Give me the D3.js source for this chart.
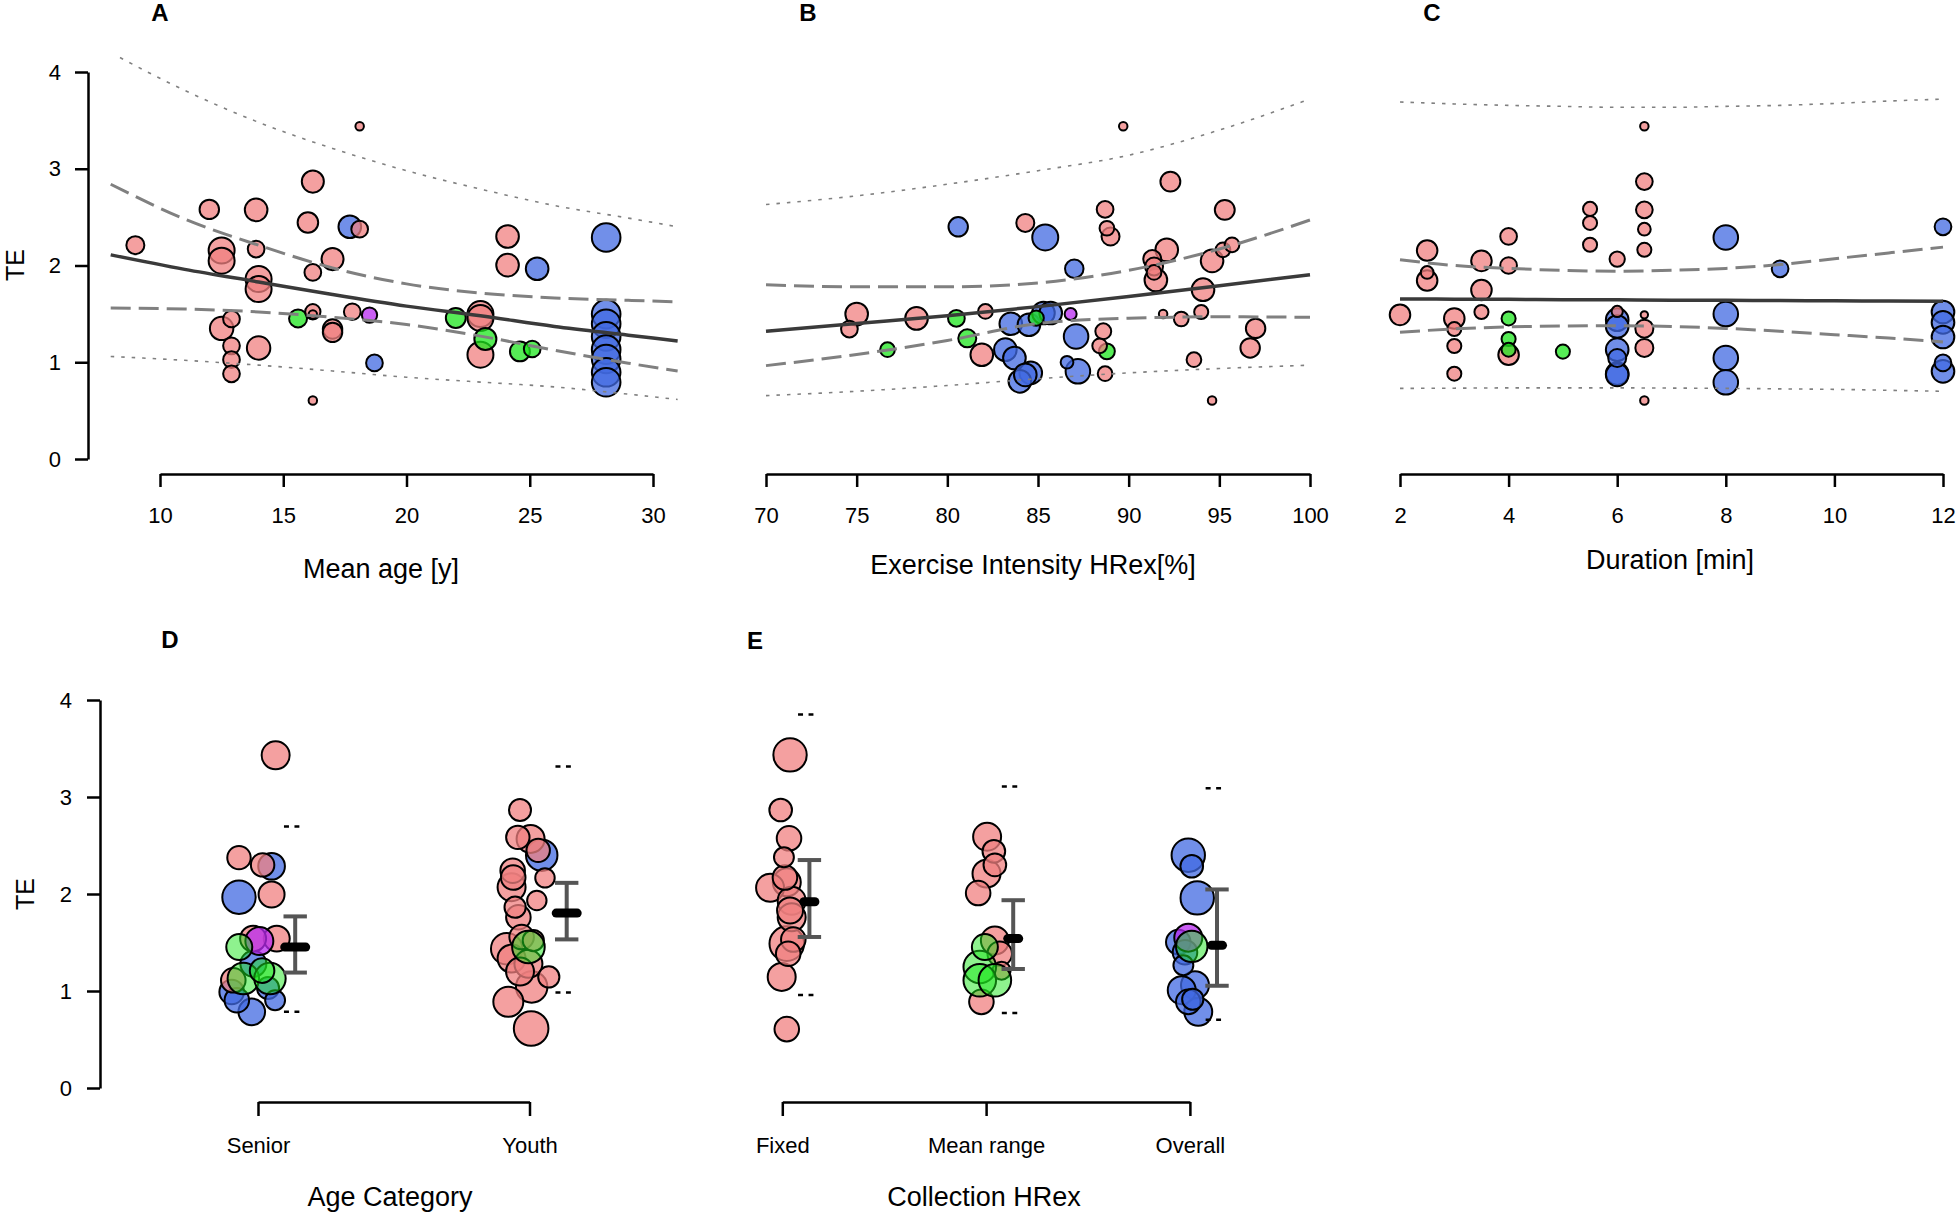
<!DOCTYPE html>
<meta charset="utf-8">
<script src="https://d3js.org/d3.v7.min.js"></script>
<style>
  body { margin: 0; background: #fff; }
  text { font-family: "Liberation Sans", Arial, Helvetica, sans-serif; }
</style>
<div id="chart"></div>
<script>

// ---- data ----
// each study: [moderator value, TE, weight, group]
// groups: p = pink, b = blue, g = green, v = violet
var ageStudies = [
  [9.0,2.21,36,"p"],[12.0,2.58,42,"p"],[13.9,2.575,57,"p"],[12.5,2.155,75,"p"],
  [12.5,2.05,75,"p"],[13.9,2.17,31,"p"],[14.0,1.86,75,"p"],[14.0,1.756,75,"p"],
  [12.5,1.35,61,"p"],[12.9,1.447,31,"p"],[12.9,1.17,31,"p"],[12.9,1.027,31,"p"],
  [12.9,0.88,31,"p"],[14.0,1.148,61,"p"],[16.2,2.867,54,"p"],[16.0,2.444,47,"p"],
  [16.2,1.928,31,"p"],[17.0,2.066,54,"p"],[16.2,1.522,26,"p"],[16.2,1.494,8,"p"],
  [15.6,1.453,36,"g"],[17.0,1.344,42,"p"],[17.0,1.309,42,"p"],[16.2,0.604,8,"p"],
  [18.1,3.44,8,"p"],[17.7,2.40,57,"b"],[18.1,2.375,31,"p"],[17.8,1.522,31,"p"],
  [18.5,1.488,26,"v"],[18.7,0.993,31,"b"],[24.1,2.30,57,"p"],[24.1,2.004,57,"p"],
  [25.3,1.966,57,"b"],[28.1,2.29,91,"b"],[22.0,1.457,44,"g"],[23.0,1.498,75,"p"],
  [23.0,1.457,75,"p"],[23.2,1.24,54,"g"],[23.0,1.078,75,"p"],[24.6,1.112,44,"g"],
  [25.1,1.137,31,"g"],[28.1,1.498,91,"b"],[28.1,1.398,91,"b"],[28.1,1.267,91,"b"],
  [28.1,1.13,91,"b"],[28.1,1.034,91,"b"],[28.1,0.896,91,"b"],[28.1,0.793,91,"b"]
];
var intensityStudies = [
  [89.7,3.44,8,"p"],[92.3,2.867,44,"p"],[88.7,2.58,31,"p"],[95.3,2.575,44,"p"],
  [80.6,2.40,42,"b"],[84.3,2.44,36,"p"],[85.4,2.29,75,"b"],[88.8,2.385,24,"p"],
  [89.0,2.30,36,"p"],[87.0,1.966,38,"b"],[91.3,2.066,36,"p"],[92.1,2.162,57,"p"],
  [91.4,1.99,36,"p"],[91.4,1.928,24,"p"],[91.5,1.85,57,"p"],[94.6,2.048,57,"p"],
  [95.2,2.162,24,"p"],[95.7,2.214,24,"p"],[94.1,1.75,57,"p"],[94.0,1.519,22,"p"],
  [91.9,1.498,8,"p"],[92.9,1.447,24,"p"],[97.0,1.35,42,"p"],[96.7,1.148,42,"p"],
  [93.6,1.027,24,"p"],[94.6,0.604,8,"p"],[75.0,1.498,57,"p"],[74.6,1.343,31,"p"],
  [78.3,1.453,57,"p"],[80.5,1.453,31,"g"],[82.1,1.525,24,"p"],[76.7,1.13,24,"g"],
  [81.1,1.247,36,"g"],[81.9,1.078,57,"p"],[83.5,1.398,57,"b"],[84.5,1.388,57,"b"],
  [85.3,1.509,57,"b"],[85.7,1.509,57,"b"],[84.9,1.457,26,"g"],[86.8,1.498,16,"v"],
  [87.1,1.267,67,"b"],[83.2,1.13,57,"b"],[83.7,1.044,57,"b"],[84.6,0.89,57,"b"],
  [84.0,0.803,57,"b"],[84.3,0.87,57,"b"],[86.6,1.0,18,"b"],[87.2,0.906,67,"b"],
  [88.6,1.32,28,"p"],[88.4,1.17,24,"p"],[88.8,1.113,28,"g"],[88.7,0.882,24,"p"]
];
var durationStudies = [
  [6.5,3.44,8,"p"],[6.5,2.867,31,"p"],[6.5,2.575,31,"p"],[6.5,2.375,18,"p"],
  [6.5,2.162,22,"p"],[5.5,2.585,22,"p"],[5.5,2.44,22,"p"],[5.5,2.214,22,"p"],
  [6.0,2.066,26,"p"],[2.5,2.155,47,"p"],[2.5,1.928,18,"p"],[2.5,1.845,47,"p"],
  [3.5,2.048,47,"p"],[3.5,1.746,47,"p"],[3.5,1.519,22,"p"],[4.0,2.30,31,"p"],
  [4.0,2.0,31,"p"],[2.0,1.49,47,"p"],[3.0,1.453,47,"p"],[3.0,1.343,22,"p"],
  [3.0,1.168,22,"p"],[3.0,0.882,22,"p"],[4.0,1.453,22,"g"],[4.0,1.24,22,"g"],
  [4.0,1.13,22,"g"],[4.0,1.078,47,"p"],[5.0,1.11,22,"g"],[6.0,1.525,14,"p"],
  [6.0,1.44,57,"b"],[6.0,1.37,57,"b"],[6.0,1.13,57,"b"],[6.0,1.044,36,"b"],
  [6.0,0.882,57,"b"],[6.0,0.87,57,"b"],[6.5,1.49,6,"p"],[6.5,1.347,36,"p"],
  [6.5,1.148,36,"p"],[6.5,0.604,8,"p"],[8.0,2.29,67,"b"],[8.0,1.498,67,"b"],
  [8.0,1.044,67,"b"],[8.0,0.793,67,"b"],[9.0,1.966,31,"b"],[12.0,2.40,31,"b"],
  [12.0,1.519,57,"b"],[12.0,1.412,57,"b"],[12.0,1.261,57,"b"],[12.0,0.993,31,"b"],
  [12.0,0.906,57,"b"]
];

// fitted curves
var ageGrid = [8, 11, 14, 17, 20, 23, 26, 29, 31];
var ageFit  = [2.11, 1.96, 1.83, 1.70, 1.58, 1.48, 1.37, 1.28, 1.22];
var ageCiLo = [1.56, 1.55, 1.52, 1.465, 1.39, 1.27, 1.125, 0.99, 0.91];
var ageCiHi = [2.84, 2.48, 2.21, 1.975, 1.81, 1.715, 1.665, 1.64, 1.625];
var agePiLo = [1.06, 1.02, 0.97, 0.91, 0.845, 0.795, 0.745, 0.67, 0.615];
var agePiHi = [4.20, 3.81, 3.48, 3.21, 2.98, 2.79, 2.62, 2.49, 2.40];

var intGrid = [70, 75, 80, 85, 90, 95, 100];
var intFit  = [1.32, 1.40, 1.48, 1.575, 1.68, 1.79, 1.905];
var intCiLo = [0.965, 1.08, 1.225, 1.40, 1.455, 1.47, 1.465];
var intCiHi = [1.80, 1.78, 1.78, 1.82, 1.95, 2.17, 2.47];
var intPiLo = [0.655, 0.70, 0.76, 0.83, 0.89, 0.935, 0.97];
var intPiHi = [2.63, 2.72, 2.84, 2.98, 3.14, 3.40, 3.72];

var durGrid = [2, 3, 4, 5, 6, 7, 8, 9, 10, 11, 12];
var durFit  = [1.655, 1.652, 1.65, 1.647, 1.645, 1.642, 1.64, 1.637, 1.635, 1.632, 1.63];
var durCiLo = [1.31, 1.345, 1.365, 1.375, 1.378, 1.37, 1.35, 1.32, 1.285, 1.25, 1.21];
var durCiHi = [2.06, 2.00, 1.97, 1.95, 1.94, 1.95, 1.97, 2.01, 2.07, 2.13, 2.19];
var durPiLo = [0.73, 0.732, 0.735, 0.735, 0.735, 0.733, 0.73, 0.725, 0.72, 0.71, 0.70];
var durPiHi = [3.69, 3.67, 3.655, 3.645, 3.635, 3.635, 3.645, 3.655, 3.675, 3.70, 3.72];

var ageTicks = [10, 15, 20, 25, 30];
var intTicks = [70, 75, 80, 85, 90, 95, 100];
var durTicks = [2, 4, 6, 8, 10, 12];
var teTicks = [0, 1, 2, 3, 4];

// category panels: [TE, jitter, weight, group]
var ageCats = ["Senior", "Youth"];
var seniorPts = [
  [3.43,0.065,87,"p"],[2.375,-0.070,61,"p"],[2.286,0.050,79,"b"],[2.30,0.017,61,"p"],
  [1.967,-0.070,124,"b"],[1.995,0.050,75,"p"],[1.54,0.069,75,"p"],[1.54,-0.018,75,"p"],
  [1.515,0.005,87,"v"],[1.453,-0.069,75,"g"],[1.28,-0.017,75,"b"],[1.21,0.015,67,"g"],
  [1.11,-0.091,67,"p"],[1.128,-0.054,110,"g"],[1.128,0.044,110,"g"],[0.99,-0.097,67,"b"],
  [0.905,-0.078,67,"b"],[0.785,-0.023,79,"b"],[0.905,0.063,44,"b"],[1.03,0.037,54,"b"]
];
var youthPts = [
  [2.866,-0.035,54,"p"],[2.584,-0.043,61,"p"],[2.568,0.004,87,"p"],[2.40,0.045,110,"b"],
  [2.45,0.032,61,"p"],[2.166,0.057,42,"p"],[2.24,-0.062,67,"p"],[2.17,-0.060,67,"p"],
  [2.07,-0.066,87,"p"],[1.933,0.027,42,"p"],[1.864,-0.053,50,"p"],[1.761,-0.041,67,"p"],
  [1.556,-0.029,67,"p"],[1.52,0.014,50,"p"],[1.436,-0.084,110,"p"],[1.334,-0.066,87,"p"],
  [1.28,-0.004,87,"p"],[1.20,-0.035,87,"p"],[1.145,0.071,50,"p"],[1.042,0.008,110,"p"],
  [0.888,-0.078,100,"p"],[0.614,0.006,133,"p"],[1.453,-0.004,118,"g"]
];
var ageMean = [1.453, 1.803];
var ageMeanCiLo = [1.19, 1.532];
var ageMeanCiHi = [1.769, 2.115];
var ageMeanPiLo = [0.785, 0.984];
var ageMeanPiHi = [2.697, 3.314];

var hrCats = ["Fixed", "Mean range", "Overall"];
var fixedPts = [
  [3.434,0.038,124,"p"],[2.866,-0.008,57,"p"],[2.574,0.033,67,"p"],[2.379,0.008,44,"p"],
  [2.17,0.013,67,"p"],[2.12,0.022,87,"p"],[2.064,-0.060,87,"p"],[1.93,0.046,87,"p"],
  [1.83,0.038,75,"p"],[1.76,0.046,87,"p"],[1.53,0.054,67,"p"],[1.488,0.022,133,"p"],
  [1.385,0.029,67,"p"],[1.145,-0.003,87,"p"],[0.607,0.022,67,"p"]
];
var meanRangePts = [
  [2.59,0.005,87,"p"],[2.44,0.038,57,"p"],[2.30,0.043,57,"p"],[2.21,0.002,87,"p"],
  [2.01,-0.039,67,"p"],[1.52,0.043,87,"p"],[1.385,0.067,67,"p"],[1.21,0.076,36,"p"],
  [0.888,-0.023,67,"p"],[1.453,-0.006,75,"g"],[1.247,-0.031,118,"g"],[1.11,-0.031,118,"g"],
  [1.11,0.043,118,"g"]
];
var overallPts = [
  [2.40,-0.008,124,"b"],[2.286,0.009,57,"b"],[1.96,0.036,124,"b"],[1.504,-0.057,67,"b"],
  [1.40,-0.024,67,"b"],[1.265,-0.032,44,"b"],[1.06,0.025,87,"b"],[1.008,-0.040,87,"b"],
  [0.915,0.014,50,"b"],[0.888,-0.008,67,"b"],[0.785,0.041,87,"b"],[1.55,-0.008,87,"v"],
  [1.46,0.009,110,"g"]
];
var hrMean = [1.92, 1.54, 1.471];
var hrMeanCiLo = [1.557, 1.227, 1.054];
var hrMeanCiHi = [2.35, 1.936, 2.047];
var hrMeanPiLo = [0.96, 0.772, 0.703];
var hrMeanPiHi = [3.85, 3.108, 3.09];

// ---- drawing ----
var fillOf = {p: "#F08080", b: "#4169E1", g: "#1EE61E", v: "#B82AF0"};
var rScale = d3.scaleSqrt().domain([0, 100]).range([0, 15]);

var yTop = d3.scaleLinear().domain([0, 4]).range([459, 72]);
var yBot = d3.scaleLinear().domain([0, 4]).range([1088, 700]);

var xA = d3.scaleLinear().domain([10, 30]).range([160, 653]);
var xB = d3.scaleLinear().domain([70, 100]).range([766, 1310]);
var xC = d3.scaleLinear().domain([2, 12]).range([1400, 1943]);
var xD = d3.scaleLinear().domain([1, 2]).range([258, 529.5]);
var xE = d3.scaleLinear().domain([1, 3]).range([782.3, 1189.9]);

var svg = d3.select("#chart")
  .append("svg")
    .attr("width", 1959)
    .attr("height", 1214);

// plot region top edge (curves get clipped there)
svg.append("defs").append("clipPath").attr("id", "clipTop")
  .append("rect")
    .attr("x", 0).attr("y", yTop(4.16))
    .attr("width", 1959).attr("height", yTop(0) - yTop(4.16) + 60);

function styleAxis(ax, size) {
  ax.attr("font-family", null).attr("font-size", null);
  ax.select(".domain").attr("stroke-width", 2.5);
  ax.selectAll(".tick line").attr("stroke-width", 2.5);
  ax.selectAll(".tick text").style("font-size", size + "px").attr("fill", "#000");
}

function drawScatter(x, pts, grid, fit, ciLo, ciHi, piLo, piHi, ticks) {
  var g = svg.append("g");
  var sorted = pts.slice().sort(function(a, b) { return b[2] - a[2]; });

  g.selectAll("circle")
    .data(sorted)
    .enter()
    .append("circle")
      .attr("cx", function(d) { return x(d[0]); })
      .attr("cy", function(d) { return yTop(d[1]); })
      .attr("r", function(d) { return rScale(d[2]); })
      .style("fill", function(d) { return fillOf[d[3]]; })
      .style("fill-opacity", 0.75)
      .style("stroke", "#000")
      .style("stroke-width", 2);

  var line = d3.line()
    .x(function(d) { return x(d[0]); })
    .y(function(d) { return yTop(d[1]); })
    .curve(d3.curveMonotoneX);

  var lines = g.append("g").attr("clip-path", "url(#clipTop)").style("fill", "none");
  [piLo, piHi].forEach(function(v) {
    lines.append("path").datum(d3.zip(grid, v)).attr("d", line)
      .style("stroke", "#808080").style("stroke-width", 1.6).style("stroke-dasharray", "3.5,7");
  });
  [ciLo, ciHi].forEach(function(v) {
    lines.append("path").datum(d3.zip(grid, v)).attr("d", line)
      .style("stroke", "#808080").style("stroke-width", 3).style("stroke-dasharray", "20,8");
  });
  lines.append("path").datum(d3.zip(grid, fit)).attr("d", line)
    .style("stroke", "#3a3a3a").style("stroke-width", 3.5);

  var ax = svg.append("g")
    .attr("transform", "translate(0,474)")
    .call(d3.axisBottom(x).tickValues(ticks).tickSize(13).tickPadding(20).tickSizeOuter(0));
  styleAxis(ax, 22);
}

function drawCategories(x, groups, cats, mean, ciLo, ciHi, piLo, piHi, barHalf, barOff, piOff) {
  var g = svg.append("g");
  var order = {b: 0, p: 1, v: 2, g: 3};
  var pts = [];
  groups.forEach(function(arr, i) {
    arr.forEach(function(d) {
      pts.push({cat: i + 1, te: d[0], jit: d[1], w: d[2], grp: d[3]});
    });
  });
  pts.sort(function(a, b) { return (order[a.grp] - order[b.grp]) || (b.w - a.w); });

  g.selectAll("circle")
    .data(pts)
    .enter()
    .append("circle")
      .attr("cx", function(d) { return x(d.cat + d.jit); })
      .attr("cy", function(d) { return yBot(d.te); })
      .attr("r", function(d) { return rScale(d.w); })
      .style("fill", function(d) { return fillOf[d.grp]; })
      .style("fill-opacity", function(d) { return d.grp == "g" ? 0.5 : 0.75; })
      .style("stroke", "#000")
      .style("stroke-width", 2);

  cats.forEach(function(c, i) {
    var cx = x(i + 1 + barOff);
    g.append("line")
      .attr("x1", cx).attr("x2", cx)
      .attr("y1", yBot(ciLo[i])).attr("y2", yBot(ciHi[i]))
      .style("stroke", "#555").style("stroke-width", 4);
    [ciLo[i], ciHi[i]].forEach(function(v) {
      g.append("line")
        .attr("x1", cx - 11.7).attr("x2", cx + 11.7)
        .attr("y1", yBot(v)).attr("y2", yBot(v))
        .style("stroke", "#555").style("stroke-width", 4);
    });
    g.append("line")
      .attr("x1", cx - barHalf).attr("x2", cx + barHalf)
      .attr("y1", yBot(mean[i])).attr("y2", yBot(mean[i]))
      .style("stroke", "#000").style("stroke-width", 9).style("stroke-linecap", "round");
    var px = x(i + 1 + piOff);
    [piLo[i], piHi[i]].forEach(function(v) {
      g.append("line")
        .attr("x1", px - 7.7).attr("x2", px + 7.7)
        .attr("y1", yBot(v)).attr("y2", yBot(v))
        .style("stroke", "#000").style("stroke-width", 2.5).style("stroke-dasharray", "5,5.5");
    });
  });

  var ax = svg.append("g")
    .attr("transform", "translate(0,1102)")
    .call(d3.axisBottom(x).tickValues(d3.range(1, cats.length + 1))
      .tickFormat(function(i) { return cats[i - 1]; })
      .tickSize(14).tickPadding(21).tickSizeOuter(0));
  styleAxis(ax, 22);
}

drawScatter(xA, ageStudies, ageGrid, ageFit, ageCiLo, ageCiHi, agePiLo, agePiHi, ageTicks);
drawScatter(xB, intensityStudies, intGrid, intFit, intCiLo, intCiHi, intPiLo, intPiHi, intTicks);
drawScatter(xC, durationStudies, durGrid, durFit, durCiLo, durCiHi, durPiLo, durPiHi, durTicks);

drawCategories(xD, [seniorPts, youthPts], ageCats, ageMean, ageMeanCiLo, ageMeanCiHi,
  ageMeanPiLo, ageMeanPiHi, 10.5, 0.137, 0.124);
drawCategories(xE, [fixedPts, meanRangePts, overallPts], hrCats, hrMean, hrMeanCiLo, hrMeanCiHi,
  hrMeanPiLo, hrMeanPiHi, 5.5, 0.133, 0.115);

// y axes
var ayTop = svg.append("g").attr("transform", "translate(88,0)")
  .call(d3.axisLeft(yTop).tickValues(teTicks).tickFormat(d3.format("d"))
    .tickSize(13).tickPadding(14).tickSizeOuter(0));
styleAxis(ayTop, 22);
var ayBot = svg.append("g").attr("transform", "translate(100,0)")
  .call(d3.axisLeft(yBot).tickValues(teTicks).tickFormat(d3.format("d"))
    .tickSize(13).tickPadding(15).tickSizeOuter(0));
styleAxis(ayBot, 22);

// labels
var letters = [["A", 160, 21], ["B", 808, 21], ["C", 1432, 21], ["D", 170, 648], ["E", 755, 649]];
letters.forEach(function(l) {
  svg.append("text").attr("x", l[1]).attr("y", l[2]).text(l[0])
    .style("font-size", "24px").style("font-weight", "bold").attr("text-anchor", "middle");
});

var titles = [["Mean age [y]", 381, 578], ["Exercise Intensity HRex[%]", 1033, 574],
  ["Duration [min]", 1670, 569], ["Age Category", 390, 1206], ["Collection HRex", 984, 1206]];
titles.forEach(function(t) {
  svg.append("text").attr("x", t[1]).attr("y", t[2]).text(t[0])
    .style("font-size", "27px").attr("text-anchor", "middle");
});

svg.append("text").attr("transform", "translate(24,265) rotate(-90)").text("TE")
  .style("font-size", "25px").attr("text-anchor", "middle");
svg.append("text").attr("transform", "translate(34,894) rotate(-90)").text("TE")
  .style("font-size", "25px").attr("text-anchor", "middle");

</script>
